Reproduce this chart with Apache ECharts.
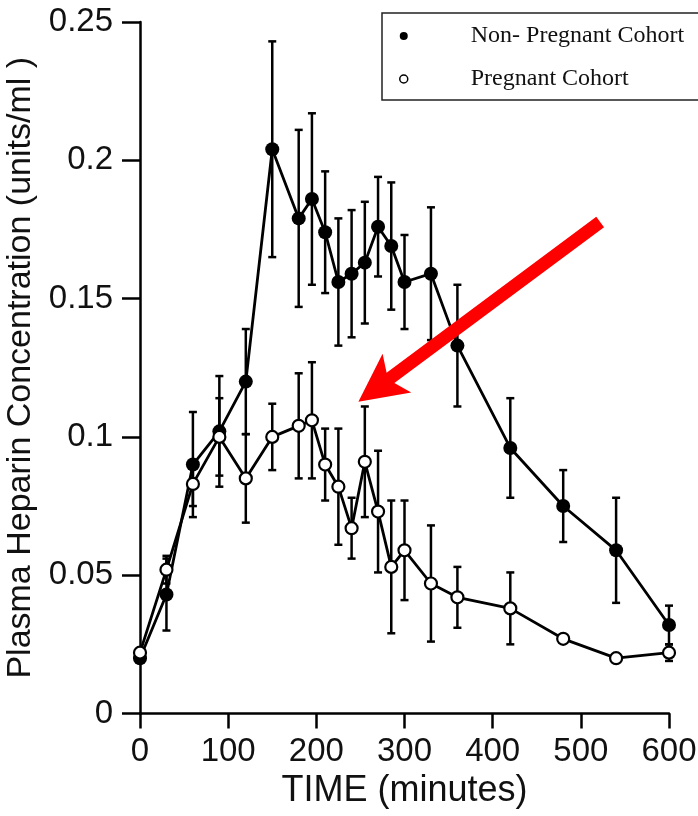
<!DOCTYPE html>
<html>
<head>
<meta charset="utf-8">
<script src="https://cdn.jsdelivr.net/npm/echarts@6/dist/echarts.min.js"></script>
<style>
  html, body { margin: 0; padding: 0; background: #fff; }
  #main { width: 698px; height: 816px; }
</style>
</head>
<body>
<div id="main"></div>
<script>
// time points (minutes)
var times = [0, 30, 60, 90, 120, 150, 180, 195, 210, 225, 240, 255, 270, 285, 300, 330, 360, 420, 480, 540, 600];
// non-pregnant cohort: mean and error
var npMean = [0.020, 0.043, 0.090, 0.102, 0.120, 0.204, 0.179, 0.186, 0.174, 0.156, 0.159, 0.163, 0.176, 0.169, 0.156, 0.159, 0.133, 0.096, 0.075, 0.059, 0.032];
var npErr  = [0, 0.013, 0.019, 0.020, 0.019, 0.039, 0.032, 0.031, 0.022, 0.023, 0.023, 0.022, 0.018, 0.023, 0.017, 0.024, 0.022, 0.018, 0.013, 0.019, 0.007];
// pregnant cohort
var pMean = [0.022, 0.052, 0.083, 0.100, 0.085, 0.100, 0.104, 0.106, 0.090, 0.082, 0.067, 0.091, 0.073, 0.053, 0.059, 0.047, 0.042, 0.038, 0.027, 0.020, 0.022];
var pErr  = [0, 0.005, 0.008, 0.014, 0.016, 0.012, 0.019, 0.021, 0.013, 0.021, 0.011, 0.020, 0.022, 0.024, 0.018, 0.021, 0.011, 0.013, 0, 0, 0.003];

var xTicks = [0, 100, 200, 300, 400, 500, 600];
var yTicks = [0, 0.05, 0.1, 0.15, 0.2, 0.25];

// red arrow annotation (data coords of tip and tail)
var arrowTip = [247.7, 0.1127];
var arrowTail = [521.9, 0.1777];

function pairs(xs, ys) {
  return xs.map(function (x, i) { return [x, ys[i]]; });
}
function errData(xs, ys, es) {
  return xs.map(function (x, i) { return [x, ys[i], es[i]]; });
}

function errRender(params, api) {
  var t = api.value(0), m = api.value(1), e = api.value(2);
  if (!e) return null;
  var top = api.coord([t, m + e]);
  var bot = api.coord([t, m - e]);
  var w = 4;
  var st = { stroke: '#000', lineWidth: 2.5 };
  return {
    type: 'group',
    children: [
      { type: 'line', shape: { x1: top[0], y1: top[1], x2: bot[0], y2: bot[1] }, style: st },
      { type: 'line', shape: { x1: top[0] - w, y1: top[1], x2: top[0] + w, y2: top[1] }, style: st },
      { type: 'line', shape: { x1: bot[0] - w, y1: bot[1], x2: bot[0] + w, y2: bot[1] }, style: st }
    ]
  };
}

var chart = echarts.init(document.getElementById('main'));

var option = {
  backgroundColor: '#fff',
  animation: false,
  grid: { left: 140, right: 29, top: 22, bottom: 102.5, outerBoundsMode: 'none', containLabel: false },
  legend: {
    orient: 'vertical',
    left: 382,
    top: 13,
    padding: [10, 40, 8, 17],
    itemGap: 17,
    itemWidth: 8,
    itemHeight: 8,
    borderColor: '#222',
    borderWidth: 1.5,
    textStyle: {
      fontFamily: 'Liberation Serif',
      fontSize: 24,
      lineHeight: 26,
      color: '#111',
      padding: [0, 0, 0, 58]
    },
    data: [
      { name: 'Non- Pregnant Cohort', icon: 'circle', itemStyle: { color: '#000', borderWidth: 0 } },
      { name: 'Pregnant Cohort', icon: 'circle', itemStyle: { color: '#fff', borderColor: '#000', borderWidth: 1.5 } }
    ]
  },
  xAxis: {
    type: 'value',
    min: 0,
    max: 600,
    interval: 100,
    name: 'TIME (minutes)',
    nameLocation: 'middle',
    nameGap: 58,
    nameTextStyle: { fontFamily: 'Liberation Sans', fontSize: 36, color: '#111' },
    axisLine: { lineStyle: { color: '#000', width: 2.5 } },
    axisTick: { length: 15, lineStyle: { color: '#000', width: 2.5 } },
    axisLabel: { margin: 22, fontFamily: 'Liberation Sans', fontSize: 33, color: '#111',
      formatter: function (v) { return xTicks.indexOf(v) >= 0 ? String(v) : ''; } },
    splitLine: { show: false }
  },
  yAxis: {
    type: 'value',
    min: 0,
    max: 0.25,
    interval: 0.05,
    name: 'Plasma Heparin Concentration (units/ml )',
    nameLocation: 'middle',
    nameGap: 90,
    nameTextStyle: { fontFamily: 'Liberation Sans', fontSize: 34, color: '#111' },
    axisLine: { lineStyle: { color: '#000', width: 2.5 } },
    axisTick: { length: 18, lineStyle: { color: '#000', width: 2.5 } },
    axisLabel: { margin: 27, fontFamily: 'Liberation Sans', fontSize: 33, color: '#111',
      formatter: function (v) {
        var r = Math.round(v * 100) / 100;
        return yTicks.indexOf(r) >= 0 ? String(r) : '';
      } },
    splitLine: { show: false }
  },
  series: [
    {
      name: 'npErr',
      type: 'custom',
      renderItem: errRender,
      data: errData(times, npMean, npErr),
      encode: { x: 0, y: 1 },
      z: 1
    },
    {
      name: 'pErr',
      type: 'custom',
      renderItem: errRender,
      data: errData(times, pMean, pErr),
      encode: { x: 0, y: 1 },
      z: 1
    },
    {
      name: 'Non- Pregnant Cohort',
      type: 'line',
      data: pairs(times, npMean),
      symbol: 'circle',
      symbolSize: 14,
      itemStyle: { color: '#000' },
      lineStyle: { color: '#000', width: 2.8 },
      z: 3
    },
    {
      name: 'Pregnant Cohort',
      type: 'line',
      data: pairs(times, pMean),
      symbol: 'circle',
      symbolSize: 12,
      showAllSymbol: true,
      itemStyle: { color: '#fff', borderColor: '#000', borderWidth: 2.2 },
      lineStyle: { color: '#000', width: 2.8 },
      z: 4
    }
  ]
};

chart.setOption(option);

// arrow annotation drawn from pixel positions of its data anchors
var T = chart.convertToPixel({ gridIndex: 0 }, arrowTip);
var S = chart.convertToPixel({ gridIndex: 0 }, arrowTail);
var dx = S[0] - T[0], dy = S[1] - T[1];
var len = Math.sqrt(dx * dx + dy * dy);
var ux = dx / len, uy = dy / len;
var nx = -uy, ny = ux;
function pt(a, b) { return [T[0] + ux * a + nx * b, T[1] + uy * a + ny * b]; }
var headLen = 48, headHalf = 24, neck = 40, shaft = 6.5;
var poly = [
  pt(0, 0),
  pt(headLen, headHalf),
  pt(neck, shaft),
  [S[0] + nx * shaft, S[1] + ny * shaft],
  [S[0] - nx * shaft, S[1] - ny * shaft],
  pt(neck, -shaft),
  pt(headLen, -headHalf)
];
chart.setOption({
  graphic: [{
    type: 'polygon',
    shape: { points: poly },
    style: { fill: '#ff0000' },
    z: 100
  }]
});
</script>
</body>
</html>
